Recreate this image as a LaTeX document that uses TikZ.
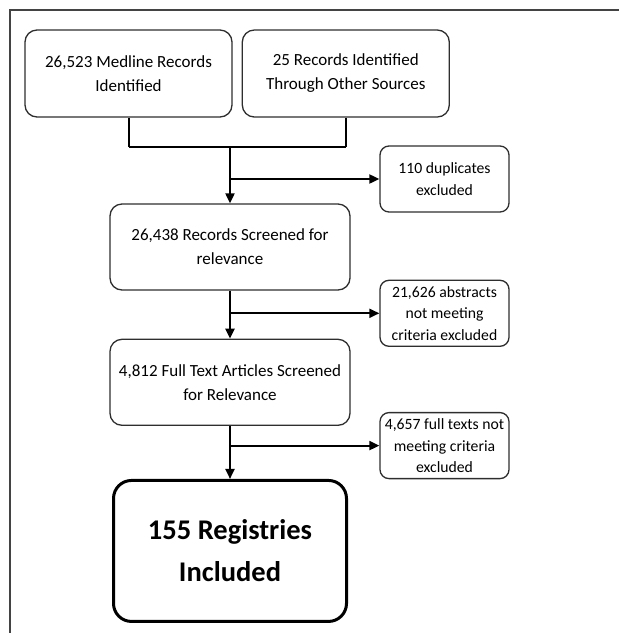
\documentclass[tikz,border=0pt]{standalone}
\usepackage{fontspec}
\setmainfont{Carlito}
\usepackage{tikz}
\usetikzlibrary{positioning,arrows.meta}
\definecolor{boxline}{HTML}{2E2E2E}
\tikzset{
    mainbox/.style = {
       shape=rectangle, rounded corners=12pt,
       draw=boxline, line width=1.3pt,
       align=center,
       minimum width = 207pt,
       minimum height = 87pt,
       font=\fontsize{17}{24}\selectfont
    },
    widebox/.style = {
       mainbox,
       minimum width = 240pt,
       minimum height = 86pt
    },
    bigbox/.style = {
       shape=rectangle, rounded corners=18pt,
       draw=black, line width=3pt,
       align=center,
       minimum width = 233pt,
       minimum height = 141pt,
       font=\fontsize{28.5}{42}\selectfont\bfseries
    },
    sidebox/.style = {
       shape=rectangle, rounded corners=9pt,
       draw=boxline, line width=1.3pt,
       align=center,
       minimum width = 129pt,
       minimum height = 66pt,
       inner sep=1pt,
       font=\fontsize{15.7}{21.5}\selectfont
    },
    frameline/.style = {draw=boxline!90, line width=1.5pt}
}

\begin{document}
\begin{tikzpicture}[x=1pt,y=-1pt,->,>={Triangle[length=10pt,width=9pt]},line width=2pt,auto]
   \useasboundingbox (0,0) rectangle (619,633);
   \draw[frameline,-] (10,633) -- (10,10) -- (619,10);
   \node[mainbox] (Medline) at (128.5,73.5) {26,523 Medline Records\\Identified};
   \node[mainbox] (Other) [right = 9pt of Medline] {25 Records Identified\\Through Other Sources};
   \node[widebox] (Screened) at (230,247) {26,438 Records Screened for\\relevance};
   \node[widebox] (FullText) [below = 48pt of Screened] {4,812 Full Text Articles Screened\\for Relevance};
   \node[bigbox] (Registries) [below = 53pt of FullText] {155 Registries\\Included};
   \node[sidebox] (Duplicates) at (444.5,179) {110 duplicates\\excluded};
   \node[sidebox] (Abstracts) [below = 67pt of Duplicates] {21,626 abstracts\\not meeting\\criteria excluded};
   \node[sidebox] (FullTexts) [below = 65pt of Abstracts] {4,657 full texts not\\meeting criteria\\excluded};
   \coordinate (Merge) at (230,147);
   \coordinate (Split1) at (Screened.north |- Duplicates.west);
   \coordinate (Split2) at (Screened.south |- Abstracts.west);
   \coordinate (Split3) at (FullText.south |- FullTexts.west);
\path
(Medline.south) edge[-] (Medline.south |- Merge)
(Other.south) edge[-] (Other.south |- Merge)
(Medline.south |- Merge) edge[-] (Other.south |- Merge)
(Merge) edge (Screened.north)
(Split1) edge (Duplicates.west)
(Screened.south) edge (FullText.north)
(Split2) edge (Abstracts.west)
(FullText.south) edge (Registries.north)
(Split3) edge (FullTexts.west);
\end{tikzpicture}
\end{document}
